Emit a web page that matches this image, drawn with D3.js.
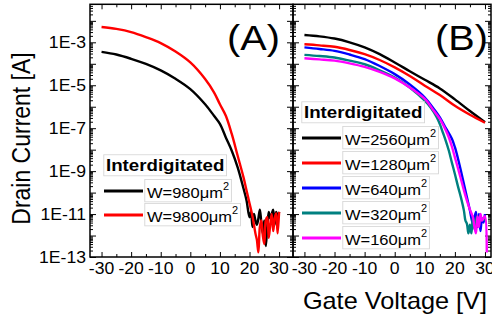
<!DOCTYPE html>
<html>
<head>
<meta charset="utf-8">
<script src="https://cdn.jsdelivr.net/npm/d3@7.9.0/dist/d3.min.js"></script>
<style>
  body { margin: 0; background: #fff; }
  svg { display: block; }
  text { font-family: "Liberation Sans", Arial, sans-serif; fill: #000; }
</style>
</head>
<body>
<svg id="chart" width="492" height="320"></svg>
<script>
// ---------- data: [gate voltage (V), drain current (A)] ----------
// panel A
const a980 = [
  [-30, 3.6e-4], [-25, 2.7e-4], [-20, 1.7e-4], [-15, 9.8e-5], [-10, 4.9e-5], [-5, 2.0e-5],
  [0, 6.6e-6], [5, 1.3e-6], [8, 3.8e-7], [10, 1.6e-7], [12, 3.7e-8], [14, 8.9e-9], [16, 1.5e-9],
  [18, 1.5e-10], [19, 4.3e-11], [20, 7.1e-12], [20.5, 1.26e-11], [21, 2.5e-12], [21.5, 1.0e-11],
  [22, 5.0e-12], [22.5, 3.2e-12], [23, 6.3e-12], [23.5, 1.6e-11], [24, 4.0e-12], [24.5, 1.26e-12],
  [25, 5.0e-12], [25.5, 3.2e-13], [26, 2.5e-12], [26.5, 1.26e-11], [27, 6.3e-12], [27.5, 1.0e-11],
  [28, 1.6e-11], [28.5, 3.2e-12], [29, 1.26e-11], [29.5, 6.3e-12], [30, 1.26e-11]
];
const a9800 = [
  [-30, 5.2e-3], [-25, 4.2e-3], [-20, 3.0e-3], [-15, 1.75e-3], [-10, 9.2e-4], [-5, 3.7e-4],
  [0, 1.15e-4], [5, 1.95e-5], [8, 4.7e-6], [10, 1.3e-6], [12, 3.8e-7], [14, 5.4e-8], [16, 5.2e-9],
  [18, 5.0e-10], [19, 1.26e-10], [20, 3.2e-11], [21, 7.9e-12], [21.5, 3.2e-12], [22, 1.26e-12],
  [22.5, 6.3e-13], [23, 1.66e-13], [23.5, 2.5e-12], [24, 5.0e-12], [24.5, 1.0e-12], [25, 4.0e-13],
  [25.5, 5.0e-12], [26, 7.1e-12], [26.5, 7.9e-13], [27, 3.2e-12], [27.5, 1.0e-11], [28, 1.6e-12],
  [28.5, 6.3e-12], [29, 1.1e-11], [29.5, 1.26e-12], [30, 1.26e-11]
];
// panel B
const b2560 = [
  [-30, 2.2e-3], [-25, 1.9e-3], [-20, 1.5e-3], [-15, 1.0e-3], [-10, 5.8e-4], [-5, 2.8e-4],
  [0, 1.15e-4], [5, 4.5e-5], [10, 1.8e-5], [15, 7.1e-6], [20, 2.2e-6], [25, 6.3e-7], [30, 1.9e-7]
];
const b1280 = [
  [-30, 8.1e-4], [-25, 7.2e-4], [-20, 6.2e-4], [-15, 4.4e-4], [-10, 2.8e-4], [-5, 1.5e-4],
  [0, 6.8e-5], [5, 2.7e-5], [10, 9.5e-6], [15, 3.5e-6], [20, 1.1e-6], [25, 4.2e-7], [30, 1.8e-7]
];
const b640 = [
  [-30, 5.8e-4], [-25, 4.9e-4], [-20, 4.0e-4], [-15, 2.7e-4], [-10, 1.66e-4], [-5, 7.9e-5],
  [0, 3.3e-5], [5, 1.1e-5], [10, 2.7e-6], [13, 7.9e-7], [15, 3.2e-7], [17, 1.0e-7], [19, 3.2e-8],
  [20, 1.3e-8], [21, 4.0e-9], [22, 1.05e-9], [23, 2.5e-10], [24, 6.0e-11], [25, 1.45e-11],
  [26, 3.5e-12], [26.5, 6.3e-12], [27, 1.26e-11], [27.5, 2.5e-12], [28, 1.0e-11], [28.5, 1.6e-12],
  [29, 6.3e-12], [29.5, 4.0e-12], [30, 1.0e-11]
];
const b320 = [
  [-30, 2.6e-4], [-25, 2.3e-4], [-20, 1.95e-4], [-15, 1.4e-4], [-10, 9.5e-5], [-5, 5.0e-5],
  [0, 2.3e-5], [5, 7.9e-6], [10, 1.9e-6], [12, 8.9e-7], [14, 3.2e-7], [15, 1.55e-7], [16, 6.3e-8],
  [17, 2.5e-8], [18, 8.9e-9], [19, 2.5e-9], [20, 7.4e-10], [21, 2.0e-10], [22, 6.0e-11],
  [23, 1.45e-11], [23.5, 5.0e-12], [24, 3.5e-12], [24.5, 1.26e-12], [25, 3.2e-12], [25.5, 1.26e-12],
  [26, 7.9e-12], [26.5, 2.0e-12], [27, 5.0e-12], [27.5, 7.9e-12], [28, 4.0e-12], [29, 6.3e-12],
  [30, 5.0e-12]
];
const b160 = [
  [-30, 1.8e-4], [-25, 1.6e-4], [-20, 1.4e-4], [-15, 1.05e-4], [-10, 7.2e-5], [-5, 4.2e-5],
  [0, 2.1e-5], [5, 7.9e-6], [10, 2.3e-6], [13, 6.5e-7], [15, 2.7e-7], [17, 7.9e-8], [18, 3.7e-8],
  [19, 1.4e-8], [20, 4.4e-9], [21, 1.4e-9], [22, 4.3e-10], [23, 1.26e-10], [24, 4.2e-11],
  [25, 1.6e-11], [26, 7.1e-12], [26.5, 2.5e-12], [27, 1.26e-12], [27.5, 7.9e-12], [28, 2.5e-12],
  [28.5, 1.0e-11], [29, 5.0e-12], [29.5, 6.3e-12], [30, 7.9e-12], [30.6, 1.6e-13]
];

const seriesA = [
  { name: 'W=980μm', color: '#000000', data: a980 },
  { name: 'W=9800μm', color: '#ff0000', data: a9800 }
];
const seriesB = [
  { name: 'W=2560μm', color: '#000000', data: b2560 },
  { name: 'W=1280μm', color: '#ff0000', data: b1280 },
  { name: 'W=640μm', color: '#0000ff', data: b640 },
  { name: 'W=320μm', color: '#008080', data: b320 },
  { name: 'W=160μm', color: '#ff00ff', data: b160 }
];

const yDecades = [1e-13, 1e-12, 1e-11, 1e-10, 1e-9, 1e-8, 1e-7, 1e-6, 1e-5, 1e-4, 1e-3, 1e-2];
const yLabelValues = [1e-13, 1e-11, 1e-9, 1e-7, 1e-5, 1e-3];
const yTickLabels = ['1E-13', '1E-11', '1E-9', '1E-7', '1E-5', '1E-3'];
const xTicks = [-30, -20, -10, 0, 10, 20, 30];
const xMinorTicks = [-25, -15, -5, 5, 15, 25];

// ---------- layout ----------
const SX = 1.1;           // reference text is drawn a little wide
const plotTop = 4.3, plotBottom = 257;
const svg = d3.select('#chart');

const y = d3.scaleLog().domain([1e-13, 0.059]).range([plotBottom, plotTop]);
const xA = d3.scaleLinear().domain([-33.9, 34.7]).range([90, 293]);
const xB = d3.scaleLinear().domain([-33.8, 32]).range([293, 491]);

const yMinor = [];
yDecades.forEach(d => { for (let m = 2; m <= 9; m++) if (m * d < 0.059) yMinor.push(m * d); });

function txt(g, x, yy, s, size, anchor, weight) {
  return g.append('text')
    .attr('transform', `translate(${x},${yy}) scale(${SX},1)`)
    .attr('font-size', size)
    .attr('text-anchor', anchor || 'start')
    .attr('font-weight', weight || 'normal')
    .text(s);
}

function axes(x, id) {
  const [x0, x1] = x.range();
  const g = svg.append('g');
  const strip = sel => sel.call(s => s.select('.domain').remove())
    .call(s => s.selectAll('line').attr('stroke', '#000').attr('stroke-width', 1));

  // y ticks, inward on both sides
  g.append('g').attr('transform', `translate(${x0},0)`)
    .call(d3.axisLeft(y).tickValues(yDecades).tickSize(-6).tickFormat('')).call(strip);
  g.append('g').attr('transform', `translate(${x0},0)`)
    .call(d3.axisLeft(y).tickValues(yMinor).tickSize(-3).tickFormat('')).call(strip);
  g.append('g').attr('transform', `translate(${x1},0)`)
    .call(d3.axisRight(y).tickValues(yDecades).tickSize(-6).tickFormat('')).call(strip);
  g.append('g').attr('transform', `translate(${x1},0)`)
    .call(d3.axisRight(y).tickValues(yMinor).tickSize(-3).tickFormat('')).call(strip);

  // x ticks, inward top and bottom
  g.append('g').attr('transform', `translate(0,${plotBottom})`)
    .call(d3.axisBottom(x).tickValues(xTicks).tickSize(-5).tickFormat('')).call(strip);
  g.append('g').attr('transform', `translate(0,${plotBottom})`)
    .call(d3.axisBottom(x).tickValues(xMinorTicks).tickSize(-3).tickFormat('')).call(strip);
  g.append('g').attr('transform', `translate(0,${plotTop})`)
    .call(d3.axisTop(x).tickValues(xTicks).tickSize(-5).tickFormat('')).call(strip);
  g.append('g').attr('transform', `translate(0,${plotTop})`)
    .call(d3.axisTop(x).tickValues(xMinorTicks).tickSize(-3).tickFormat('')).call(strip);

  g.append('rect')
    .attr('x', x0).attr('y', plotTop).attr('width', x1 - x0).attr('height', plotBottom - plotTop)
    .attr('fill', 'none').attr('stroke', '#000').attr('stroke-width', 1.5);

  xTicks.forEach(v => txt(g, x(v), plotBottom + 16.5, v, 16, 'middle'));

  svg.append('clipPath').attr('id', id)
    .append('rect').attr('x', x0).attr('y', plotTop).attr('width', x1 - x0).attr('height', plotBottom - plotTop);
}

function curves(x, series, id) {
  const line = d3.line().x(d => x(d[0])).y(d => y(d[1])).curve(d3.curveCatmullRom.alpha(0.5));
  svg.append('g').attr('clip-path', `url(#${id})`)
    .selectAll('path').data(series).join('path')
    .attr('d', d => line(d.data))
    .attr('fill', 'none')
    .attr('stroke', d => d.color)
    .attr('stroke-width', 2.4)
    .attr('stroke-linejoin', 'round');
}

function legend(series, lx, titleY, rowY, rowStep) {
  const g = svg.append('g');
  const boxed = (x, yy, build) => {
    const t = g.append('g').attr('transform', `translate(${x},${yy}) scale(${SX},1)`);
    const el = build(t);
    const b = el.node().getBBox();
    t.insert('rect', 'text')
      .attr('x', b.x - 2).attr('y', b.y - 1).attr('width', b.width + 4).attr('height', b.height + 2)
      .attr('fill', '#fff').attr('stroke', '#d4d4d4').attr('stroke-width', 0.8);
  };
  boxed(lx + 2, titleY, t => t.append('text').attr('font-size', 17).attr('font-weight', 'bold').text('Interdigitated'));
  series.forEach((s, i) => {
    const ly = rowY + i * rowStep;
    g.append('line').attr('x1', lx).attr('x2', lx + 39).attr('y1', ly).attr('y2', ly)
      .attr('stroke', s.color).attr('stroke-width', 3);
    boxed(lx + 43, ly + 7, t => {
      const el = t.append('text').attr('font-size', 15);
      el.append('tspan').text(s.name);
      el.append('tspan').attr('dy', -8).attr('font-size', 10).text('2');
      return el;
    });
  });
}

axes(xA, 'clipA');
axes(xB, 'clipB');

yLabelValues.forEach((v, i) => txt(svg, 86, y(v) + 5.8, yTickLabels[i], 16, 'end'));

curves(xA, seriesA, 'clipA');
curves(xB, seriesB, 'clipB');

legend(seriesA, 104, 171, 191, 24);
legend(seriesB, 302, 118, 138, 25);

// panel letters
txt(svg, 253.5, 50, '(A)', 36, 'middle');
txt(svg, 461.5, 50, '(B)', 36, 'middle');

// axis titles
txt(svg, 487, 309, 'Gate Voltage [V]', 23, 'end');
svg.append('text')
  .attr('transform', `translate(30,138.5) rotate(-90) scale(1,${SX})`)
  .attr('font-size', 23).attr('text-anchor', 'middle')
  .text('Drain Current [A]');
</script>
</body>
</html>
